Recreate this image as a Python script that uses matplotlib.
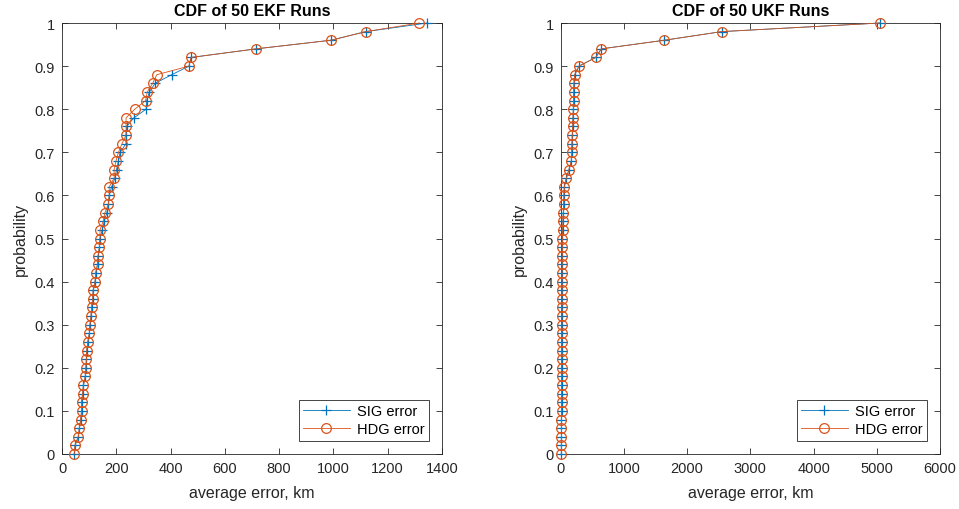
import matplotlib.pyplot as plt
import numpy as np

plt.rcParams['font.family'] = ['Liberation Sans', 'DejaVu Sans']

# cumulative probability levels shared by both runs sets
prob = [round(i * 0.02, 2) for i in range(51)]

# EKF average errors (km), sorted
ekf_sig = [45, 48, 60, 64, 69, 72, 72, 76, 79, 86, 88, 90, 91, 95, 101, 103, 107,
           109, 113, 115, 122, 124, 131, 133, 138, 140, 148, 156, 165, 171, 174,
           183, 195, 201, 208, 214, 236, 236, 238, 265, 310, 312, 322, 343, 404,
           468, 475, 715, 991, 1119, 1346]
ekf_hdg = [45, 48, 60, 64, 69, 72, 72, 76, 79, 86, 88, 90, 91, 95, 101, 103, 107,
           109, 113, 115, 122, 124, 131, 133, 138, 140, 140, 152, 158, 171, 174,
           174, 192, 192, 199, 208, 221, 236, 236, 236, 268, 308, 314, 334, 349,
           468, 475, 715, 991, 1119, 1317]

# UKF average errors (km), sorted
ukf_sig = [10, 11, 11, 12, 12, 13, 13, 14, 14, 15, 15, 16, 16, 17, 17, 18, 18,
           19, 19, 20, 20, 21, 22, 23, 26, 26, 31, 36, 42, 47, 52, 57, 89, 131,
           168, 174, 179, 184, 189, 195, 200, 205, 205, 211, 221, 290, 553, 643,
           1639, 2546, 5051]
ukf_hdg = list(ukf_sig)

blue = '#0072BD'
orange = '#D95319'
axcol = '#262626'

fig = plt.figure(figsize=(9.59, 5.10), dpi=100)
ax1 = fig.add_axes([62 / 959, 55 / 510, 380 / 959, 431 / 510])
ax2 = fig.add_axes([560.7 / 959, 55 / 510, 379.3 / 959, 431 / 510])


def draw(ax, sig, hdg, title, xmax, xstep):
    ax.plot(sig, prob, '-+', color=blue, lw=0.6, ms=7, mew=0.9,
            clip_on=False, zorder=3, label='SIG error')
    ax.plot(hdg, prob, '-o', color=orange, lw=0.6, ms=7, mew=0.9,
            mfc='none', clip_on=False, zorder=4, label='HDG error')
    ax.set_xlim(0, xmax)
    ax.set_ylim(0, 1)
    ax.set_xticks(np.arange(0, xmax + 1, xstep))
    ax.set_yticks(np.arange(0, 1.01, 0.1))
    ax.set_yticklabels(['0'] + ['%.1f' % v for v in np.arange(0.1, 0.95, 0.1)] + ['1'])
    ax.tick_params(direction='in', top=True, right=True, length=4, width=0.6,
                   colors=axcol, labelsize=10.5, pad=5)
    for s in ax.spines.values():
        s.set_color(axcol)
        s.set_linewidth(0.6)
    ax.set_title(title, fontsize=11.5, fontweight='bold', pad=6)
    ax.set_xlabel('average error, km', fontsize=11.5, color=axcol, labelpad=7)
    ax.set_ylabel('probability', fontsize=11.5, color=axcol, labelpad=5)
    leg = ax.legend(loc='lower right', fontsize=10.5, fancybox=False,
                    framealpha=1, borderaxespad=0.9, handlelength=3.2,
                    labelspacing=0.3, borderpad=0.3, handletextpad=0.5)
    leg.get_frame().set_edgecolor(axcol)
    leg.get_frame().set_linewidth(0.6)
    leg.set_zorder(5)


draw(ax1, ekf_sig, ekf_hdg, 'CDF of 50 EKF Runs', 1400, 200)
draw(ax2, ukf_sig, ukf_hdg, 'CDF of 50 UKF Runs', 6000, 1000)

plt.savefig('out.png', dpi=100)
